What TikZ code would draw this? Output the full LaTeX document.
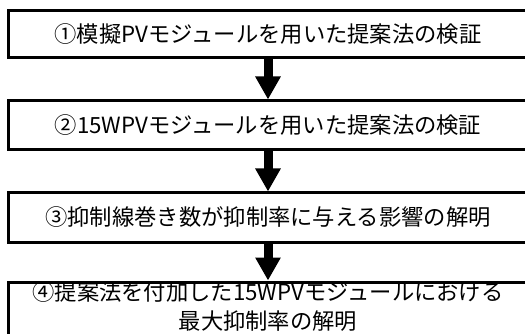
\documentclass[tikz,border=0pt]{standalone}
\usepackage{fontspec}
\newfontfamily\jpfont{Noto Sans CJK JP}
\usetikzlibrary{positioning,arrows.meta}

\begin{document}
\begin{tikzpicture}[x=1pt,y=1pt,
   stepbox/.style={draw,line width=3pt,minimum width=520pt,minimum height=47pt,
      inner ysep=0pt,align=center,font=\jpfont\fontsize{22.3pt}{29pt}\selectfont},
   flow/.style={line width=9pt,-{Triangle[length=23pt,width=24pt]}},
   node distance=40pt]
\useasboundingbox (0,0) rectangle (525,-334);
\node[stepbox] (verify1) at (268,-34.5) {①模擬PVモジュールを用いた提案法の検証};
\node[stepbox,below=of verify1,minimum height=49pt] (verify2) {②15WPVモジュールを用いた提案法の検証};
\node[stepbox,below=of verify2,minimum height=49pt] (turns) {③抑制線巻き数が抑制率に与える影響の解明};
\node[stepbox,below=37pt of turns,minimum height=0pt,text depth=12pt] (maxrate) {④提案法を付加した15WPVモジュールにおける\\最大抑制率の解明};
\draw[flow] (verify1) -- (verify2);
\draw[flow] (verify2) -- (turns);
\draw[flow] (turns) -- (maxrate);
\end{tikzpicture}
\end{document}
